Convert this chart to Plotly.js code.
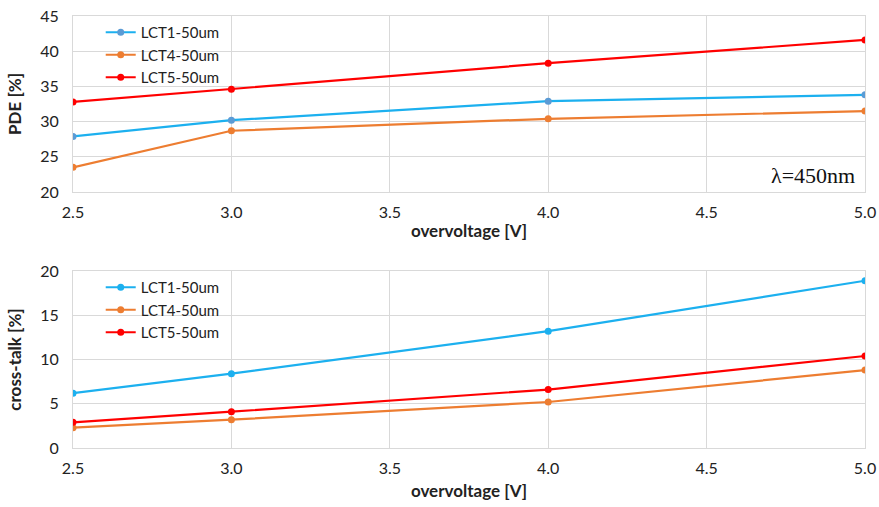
<!DOCTYPE html>
<html>
<head>
<meta charset="utf-8">
<script src="https://cdn.plot.ly/plotly-3.0.1.min.js"></script>
<style>html,body{margin:0;padding:0;background:#fff;}#chart{width:879px;height:507px;}</style>
</head>
<body>
<div id="chart"></div>
<script>
const overvoltage = [2.5, 3.0, 4.0, 5.0];
const seriesNames = ["LCT1-50um", "LCT4-50um", "LCT5-50um"];
const pdeLCT1 = [27.9, 30.2, 32.9, 33.8];
const pdeLCT4 = [23.5, 28.7, 30.4, 31.5];
const pdeLCT5 = [32.8, 34.6, 38.3, 41.6];
const ctLCT1 = [6.2, 8.4, 13.2, 18.9];
const ctLCT4 = [2.3, 3.2, 5.2, 8.8];
const ctLCT5 = [2.9, 4.1, 6.6, 10.4];
const xTicks = [2.5, 3.0, 3.5, 4.0, 4.5, 5.0];
const xTickText = ["2.5", "3.0", "3.5", "4.0", "4.5", "5.0"];

const blue = "#1cb0ef", blueMk = "#5b9bd5", orange = "#ed7d31", red = "#ff0000";
const font = "Lato, 'Open Sans', sans-serif";

function tr(y, name, color, mk, xa, ya, legend) {
  return {x: overvoltage, y: y, name: name, type: "scatter", mode: "lines+markers",
    line: {color: color, width: 2.2}, marker: {color: mk, size: 7},
    xaxis: xa, yaxis: ya, legend: legend};
}
const data = [
  tr(pdeLCT1, seriesNames[0], blue, blueMk, "x", "y", "legend"),
  tr(pdeLCT4, seriesNames[1], orange, orange, "x", "y", "legend"),
  tr(pdeLCT5, seriesNames[2], red, red, "x", "y", "legend"),
  tr(ctLCT1, seriesNames[0], blue, blue, "x2", "y2", "legend2"),
  tr(ctLCT4, seriesNames[1], orange, orange, "x2", "y2", "legend2"),
  tr(ctLCT5, seriesNames[2], red, red, "x2", "y2", "legend2")
];
const axBase = {showgrid: true, gridcolor: "#d9d9d9", gridwidth: 1, showline: true, linecolor: "#d9d9d9", linewidth: 1, mirror: true, zeroline: false, ticks: "", tickfont: {family: font, size: 16, color: "#222"}};
const xBase = Object.assign({}, axBase, {range: [2.5, 5.0], tickvals: xTicks, ticktext: xTickText, ticklabelstandoff: 6,
  title: {text: "<b>overvoltage [V]</b>", font: {family: font, size: 17, color: "#222"}, standoff: 4}});
const yTitleFont = {family: font, size: 17, color: "#222"};
const layout = {
  width: 879, height: 507, paper_bgcolor: "#fff", plot_bgcolor: "#fff",
  margin: {l: 73, r: 14, t: 16, b: 59},
  showlegend: true,
  xaxis: Object.assign({}, xBase, {anchor: "y", domain: [0, 1]}),
  yaxis: Object.assign({}, axBase, {domain: [0.5926, 1], range: [20, 45], dtick: 5, anchor: "x", ticklabelstandoff: 10,
    title: {text: "<b>PDE [%]</b>", font: yTitleFont, standoff: 14}}),
  xaxis2: Object.assign({}, xBase, {anchor: "y2", domain: [0, 1], title: {text: "<b>overvoltage [V]</b>", font: {family: font, size: 17, color: "#222"}, standoff: 8}}),
  yaxis2: Object.assign({}, axBase, {domain: [0, 0.4097], range: [0, 20], dtick: 5, anchor: "x2", ticklabelstandoff: 10,
    title: {text: "<b>cross-talk [%]</b>", font: yTitleFont, standoff: 14}}),
  legend: {x: 0.035, y: 1.0, xanchor: "left", yanchor: "top", bgcolor: "rgba(255,255,255,0)", font: {family: font, size: 15, color: "#222"}, tracegroupgap: 0},
  legend2: {x: 0.035, y: 0.4097, xanchor: "left", yanchor: "top", bgcolor: "rgba(255,255,255,0)", font: {family: font, size: 15, color: "#222"}, tracegroupgap: 0},
  annotations: [{xref: "paper", yref: "paper", x: 0.99, y: 0.63, xanchor: "right", yanchor: "middle", showarrow: false,
    text: "λ=450nm", font: {family: "'Liberation Serif', serif", size: 22, color: "#111"}}]
};
Plotly.newPlot("chart", data, layout, {displayModeBar: false, staticPlot: true});
</script>
</body>
</html>
